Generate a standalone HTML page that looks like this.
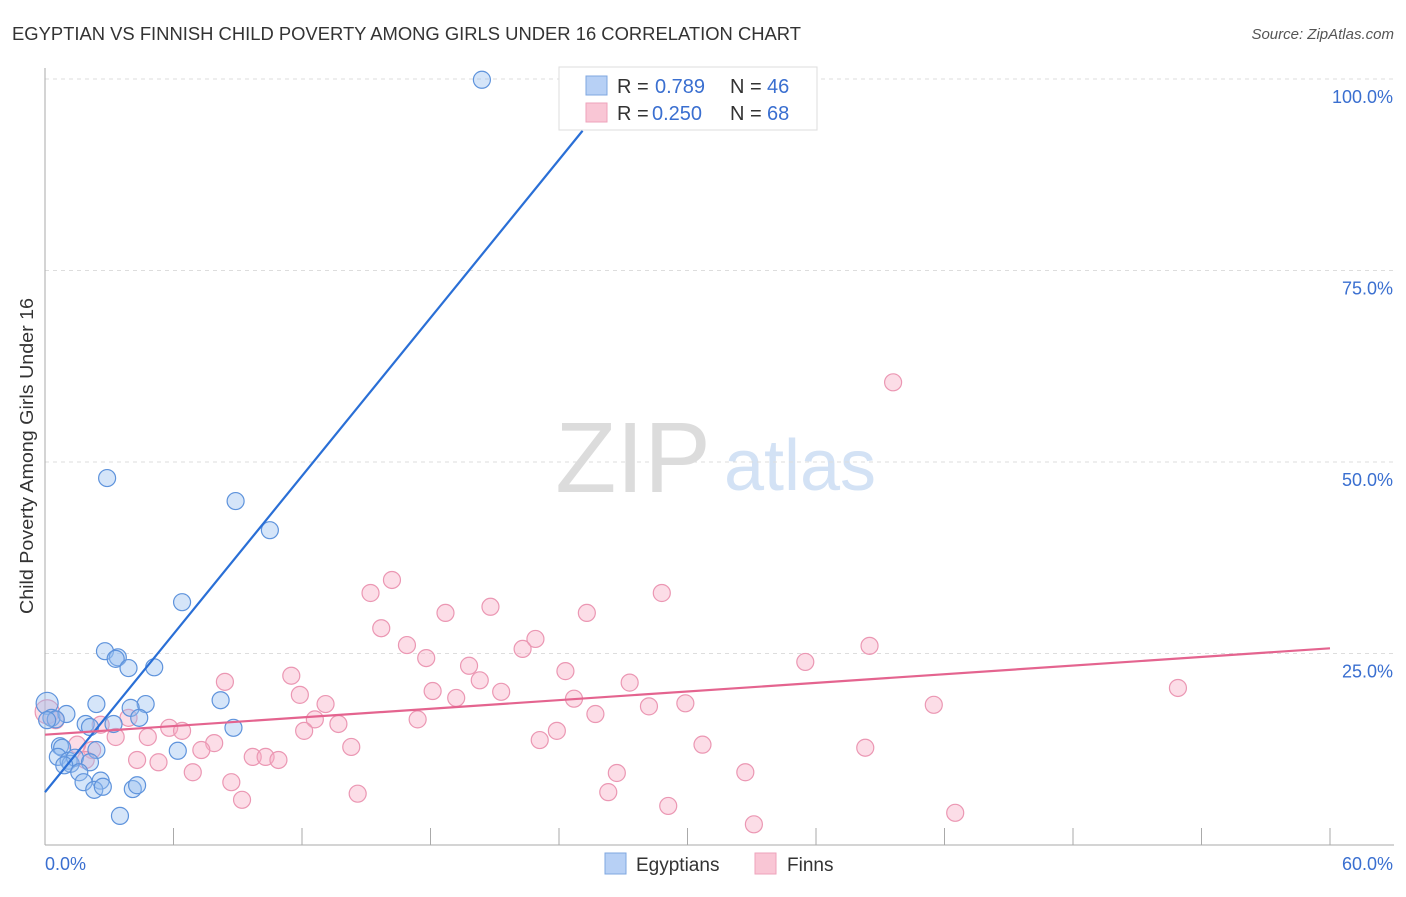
<!DOCTYPE html>
<html><head><meta charset="utf-8"><style>
body{margin:0;background:#fff;font-family:"Liberation Sans",sans-serif;}
svg text{font-family:"Liberation Sans",sans-serif;}
</style></head><body>
<svg id="chart" width="1406" height="892" xmlns="http://www.w3.org/2000/svg">
<text x="12" y="40" font-size="18" fill="#333" textLength="789" lengthAdjust="spacingAndGlyphs">EGYPTIAN VS FINNISH CHILD POVERTY AMONG GIRLS UNDER 16 CORRELATION CHART</text>
<text x="1394" y="39" font-size="15" fill="#555" font-style="italic" text-anchor="end">Source: ZipAtlas.com</text>
<text x="33" y="456" font-size="18" fill="#333" text-anchor="middle" textLength="316" lengthAdjust="spacingAndGlyphs" transform="rotate(-90 33 456)">Child Poverty Among Girls Under 16</text>
<g>
<text x="633" y="492" font-size="100" fill="#dcdcdc" font-family="Liberation Serif,serif" text-anchor="middle">ZIP</text>
<text x="800" y="490" font-size="72" fill="#d3e2f5" text-anchor="middle">atlas</text>
</g>
<g id="grid"></g><g id="axes"></g><g id="marks"></g>
<g>
<rect x="559" y="67" width="258" height="63" fill="#fff" stroke="#ddd"/>
<rect x="586" y="76" width="21" height="19" fill="#b7d0f5" stroke="#7fa7e0"/>
<rect x="586" y="103" width="21" height="19" fill="#f9c6d5" stroke="#eea3bb"/>
<text x="617" y="93" font-size="20" fill="#333">R = </text><text x="655" y="93" font-size="20" fill="#3a6fd0">0.789</text>
<text x="730" y="93" font-size="20" fill="#333">N = </text><text x="767" y="93" font-size="20" fill="#3a6fd0">46</text>
<text x="617" y="120" font-size="20" fill="#333">R = </text><text x="652" y="120" font-size="20" fill="#3a6fd0">0.250</text>
<text x="730" y="120" font-size="20" fill="#333">N = </text><text x="767" y="120" font-size="20" fill="#3a6fd0">68</text>
</g>
<g>
<rect x="605" y="853" width="21" height="21" fill="#b7d0f5" stroke="#7fa7e0"/>
<text x="636" y="871" font-size="19" fill="#333">Egyptians</text>
<rect x="755" y="853" width="21" height="21" fill="#f9c6d5" stroke="#eea3bb"/>
<text x="787" y="871" font-size="19" fill="#333">Finns</text>
</g>
</svg>
<script>
const xTicks=[0,6,12,18,24,30,36,42,48,54,60];
const yTicks=[25,50,75,100];
const yTickLabels=["25.0%","50.0%","75.0%","100.0%"];
const xEndLabels=["0.0%","60.0%"];
const egyX=[20.4,2.9,8.9,10.5,6.4,2.8,3.4,3.3,5.1,3.9,4.7,2.4,4.0,8.2,0.1,0.3,1.0,4.4,1.9,3.2,2.1,0.5,8.8,0.7,2.4,6.2,0.8,0.6,1.1,1.2,1.4,2.1,0.9,1.6,1.8,2.6,2.3,4.1,4.3,2.7,3.5,0.1];
const egyY=[99.9,47.9,44.9,41.1,31.7,25.3,24.5,24.3,23.2,23.1,18.4,18.4,17.9,18.9,18.5,16.6,17.1,16.6,15.8,15.8,15.4,16.4,15.3,12.9,12.4,12.3,12.7,11.5,11.0,10.6,11.4,10.8,10.4,9.5,8.2,8.4,7.2,7.3,7.8,7.6,3.8,16.3];
const finX=[39.6,16.2,15.2,20.8,18.7,25.3,28.8,15.7,22.9,16.9,22.3,38.5,17.8,35.5,19.8,24.3,11.5,20.3,8.4,27.3,18.1,21.3,52.9,11.9,19.2,24.7,13.1,28.2,29.9,41.5,25.7,17.4,12.6,3.9,13.7,5.8,6.4,12.1,23.9,3.3,4.8,23.1,7.9,14.3,30.7,38.3,7.3,2.2,1.5,9.7,10.3,10.9,4.3,5.3,6.9,26.7,32.7,8.7,26.3,14.6,9.2,29.1,33.1,42.5,0.1,0.5,2.6,1.9];
const finY=[60.4,34.6,32.9,31.1,30.3,30.3,32.9,28.3,26.9,26.1,25.6,26.0,24.4,23.9,23.4,22.7,22.1,21.5,21.3,21.2,20.1,20.0,20.5,19.6,19.2,19.1,18.4,18.1,18.5,18.3,17.1,16.4,16.4,16.6,15.8,15.3,14.9,14.9,14.9,14.1,14.1,13.7,13.3,12.8,13.1,12.7,12.4,12.4,13.1,11.5,11.5,11.1,11.1,10.8,9.5,9.4,9.5,8.2,6.9,6.7,5.9,5.1,2.7,4.2,17.4,16.3,15.7,11.1];
const egyLine=[6.9,3.44]; // intercept, slope
const finLine=[14.4,0.188];
const X=v=>45+v/60*1285, Y=v=>845-v/100*766;
const NS="http://www.w3.org/2000/svg";
function mk(p,t,a){const e=document.createElementNS(NS,t);for(const k in a)e.setAttribute(k,a[k]);p.appendChild(e);return e;}
const grid=document.getElementById('grid'),axes=document.getElementById('axes'),marks=document.getElementById('marks');
yTicks.forEach((t,i)=>{
 const l=mk(grid,'line',{x1:45,x2:1394,y1:Y(t),y2:Y(t),stroke:'#ddd','stroke-dasharray':'4,4'});
 
 
 const tx=mk(axes,'text',{x:1393,y:Y(t)+24,'font-size':18,fill:'#3a6fd0','text-anchor':'end'});tx.textContent=yTickLabels[i];
 
 
});
const ya=mk(axes,'line',{x1:45,x2:45,y1:68,y2:845,stroke:'#aaa'});


const xa=mk(axes,'line',{x1:45,x2:1394,y1:845,y2:845,stroke:'#aaa'});


xTicks.forEach(t=>{const l=mk(axes,'line',{x1:X(t),x2:X(t),y1:828,y2:845,stroke:'#aaa'});
 
 });
const l0=mk(axes,'text',{x:45,y:870,'font-size':18,fill:'#3a6fd0'});l0.textContent=xEndLabels[0];


const l1=mk(axes,'text',{x:1393,y:870,'font-size':18,fill:'#3a6fd0','text-anchor':'end'});l1.textContent=xEndLabels[1];


finX.forEach((x,i)=>{const c=mk(marks,'circle',{cx:X(x),cy:Y(finY[i]),r:(i==64)?12:8.5,fill:'rgba(247,170,195,0.4)',stroke:'#eb97b3','stroke-width':1.2});
 
 });
egyX.forEach((x,i)=>{const c=mk(marks,'circle',{cx:X(x),cy:Y(egyY[i]),r:(i==14)?11:8.5,fill:'rgba(150,190,240,0.4)',stroke:'#5e93dc','stroke-width':1.2});
 
 });
const ex2=25.1;
const el=mk(marks,'line',{x1:X(0),y1:Y(egyLine[0]),x2:X(ex2),y2:Y(egyLine[0]+egyLine[1]*ex2),stroke:'#2a6fd6','stroke-width':2.2});


const fl=mk(marks,'line',{x1:X(0),y1:Y(finLine[0]),x2:X(60),y2:Y(finLine[0]+finLine[1]*60),stroke:'#e4648f','stroke-width':2.2});


</script>
</body></html>
